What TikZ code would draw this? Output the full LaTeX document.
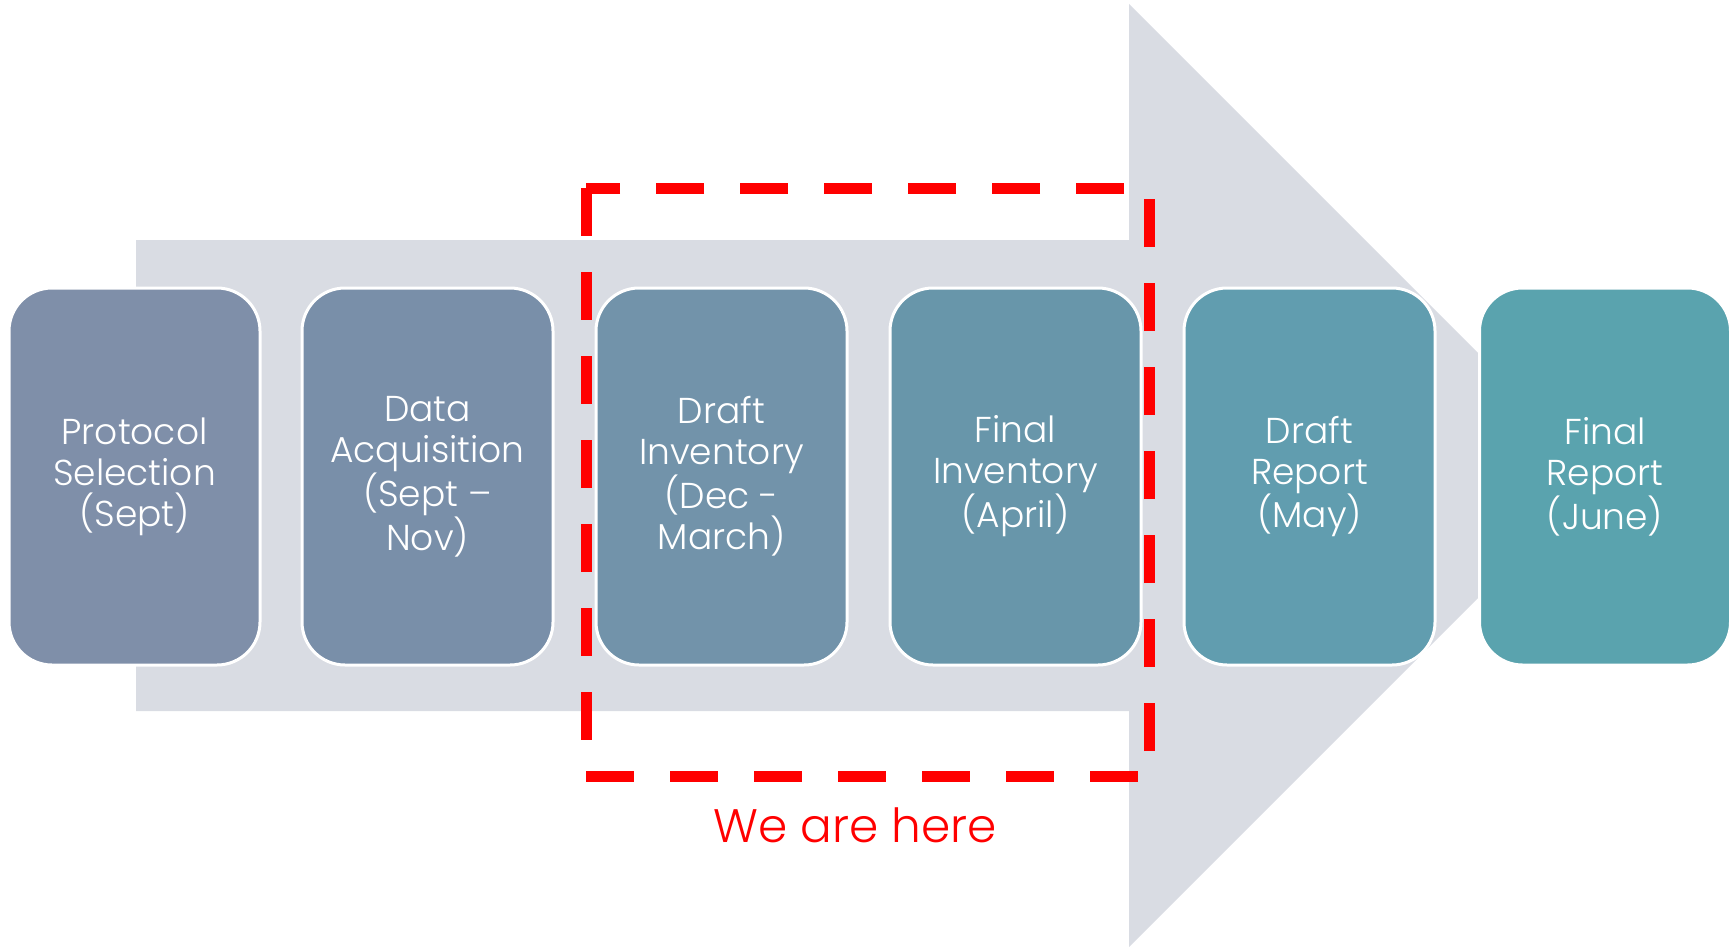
\documentclass[tikz,border=0pt]{standalone}
\usepackage{fontspec}
\setmainfont{Poppins Light}
\definecolor{arrowgray}{HTML}{D9DCE3}
\definecolor{cA}{HTML}{7F8FA9}
\definecolor{cB}{HTML}{798FA9}
\definecolor{cC}{HTML}{7293AA}
\definecolor{cD}{HTML}{6896AA}
\definecolor{cE}{HTML}{619DAF}
\definecolor{cF}{HTML}{5AA3AE}
\definecolor{herered}{HTML}{FF0000}
\begin{document}
\begin{tikzpicture}[x=1pt,y=-1pt,
  stage/.style={draw=white, line width=3pt, rounded corners=43pt,
    minimum width=251pt, minimum height=377pt, inner sep=0pt,
    text=white, align=center, font=\fontsize{36}{41}\selectfont},
  herebox/.style={draw=herered, line width=11pt, dash pattern=on 48pt off 36pt}
]
\useasboundingbox (0,0) rectangle (1734,947);
% big arrow
\fill[arrowgray] (136,240) -- (1129,240) -- (1129,4) -- (1480,355) -- (1480,596)
  -- (1129,947) -- (1129,711) -- (136,711) -- cycle;
% stages
\node[stage, fill=cA] (b1) at (134.5,476.5) {Protocol\\Selection\\(Sept)};
\node[stage, fill=cB] (b2) at (427.5,476.5) {Data\\Acquisition\\(Sept –\\Nov)};
\node[stage, fill=cC] (b3) at (721.5,476.5) {Draft\\Inventory\\(Dec -\\March)};
\node[stage, fill=cD] (b4) at (1015.5,476.5) {Final\\Inventory\\(April)};
\node[stage, fill=cE] (b5) at (1309.5,476.5) {Draft\\Report\\(May)};
\node[stage, fill=cF] (b6) at (1605,476.5) {Final\\Report\\(June)};
% dashed marker
\draw[herebox] (586,188) rectangle (1149,776);
\node[text=herered, font=\fontsize{47}{56}\selectfont] (here) at (855,825) {We are here};
\end{tikzpicture}
\end{document}
